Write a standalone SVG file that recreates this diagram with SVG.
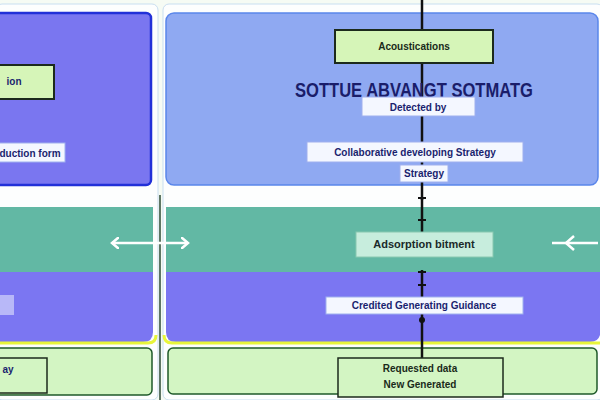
<svg xmlns="http://www.w3.org/2000/svg" width="600" height="400" viewBox="0 0 600 400">
<defs>
<style>
.lbl{font-family:"Liberation Sans",Arial,sans-serif;font-size:11px;font-weight:bold;fill:#1a1f6e;text-anchor:middle}
.wbox{fill:#f4f7ff;stroke:#9fb0ee;stroke-width:1}
.gbox{fill:#d6f5b8;stroke:#1c2a1c;stroke-width:2}
.conn{stroke:#111;stroke-width:2.5;fill:none}
</style>
<marker id="wh" markerWidth="10" markerHeight="12" refX="7" refY="6" orient="auto-start-reverse" markerUnits="userSpaceOnUse"><path d="M0,0 L7,6 L0,12" fill="none" stroke="#fff" stroke-width="2.5"/></marker>
</defs>
<rect width="600" height="400" fill="#f6fbf4"/>
<g id="frames">
<rect x="-4" y="4" width="162" height="396" rx="6" fill="#fdfefe" stroke="#c9def0" stroke-width="1"/>
<rect x="163" y="4" width="440" height="396" rx="6" fill="#fdfefe" stroke="#c9def0" stroke-width="1"/>
</g>
<g id="left-top">
<rect x="-6" y="13" width="157" height="172" rx="5" fill="#7a76f0" stroke="#2230d8" stroke-width="2.5"/>
</g>
<g id="right-top">
<rect x="166" y="13" width="432" height="172" rx="8" fill="#8fa9f2" stroke="#5a86ea" stroke-width="1.5"/>
</g>
<g id="bands">
<rect x="-4" y="207" width="157" height="66" fill="#62b8a4"/>
<rect x="166" y="207" width="436" height="66" fill="#62b8a4"/>
<path d="M-4 272 H153 V332 Q153 342 143 342 H-4 Z" fill="#7b76f2"/>
<path d="M166 272 H600 V335 Q598 342 590 342 H176 Q166 342 166 332 Z" fill="#7b76f2"/>
<path d="M-4 343 H148 Q156 343 156 335 M164 335 Q164 343 172 343 H600" fill="none" stroke="#e8f53a" stroke-width="3"/>
<rect x="-6" y="348" width="158" height="47" rx="5" fill="#d3f5c3" stroke="#1f5a2a" stroke-width="1.5"/>
<rect x="168" y="348" width="429" height="46" rx="5" fill="#d3f5c3" stroke="#1f5a2a" stroke-width="1.5"/>
</g>
<g id="divider">
<line x1="160" y1="195" x2="160" y2="400" stroke="#2b4a35" stroke-width="1.5"/>
</g>
<g id="connectors">
<line class="conn" x1="422" y1="0" x2="422" y2="200"/>
<line class="conn" x1="422" y1="197" x2="422" y2="232"/>
<line x1="418" y1="220" x2="426" y2="220" stroke="#111" stroke-width="2"/>
<line x1="418" y1="198" x2="426" y2="198" stroke="#111" stroke-width="2"/>
<line class="conn" x1="422" y1="270" x2="422" y2="358"/>
<line x1="418" y1="272" x2="426" y2="272" stroke="#111" stroke-width="2"/>
<line x1="418" y1="285" x2="426" y2="285" stroke="#111" stroke-width="2"/>
<circle cx="422" cy="320" r="3" fill="#111"/>
<line x1="112" y1="243" x2="188" y2="243" stroke="#fff" stroke-width="2.5" marker-start="url(#wh)" marker-end="url(#wh)"/>
<line x1="598" y1="243" x2="552" y2="243" stroke="#fff" stroke-width="2.5"/>
<path d="M574 236 L566 243 L574 250" fill="none" stroke="#fff" stroke-width="2.5"/>
</g>
<g id="n-left-green">
<rect x="-4" y="65" width="58" height="34" class="gbox"/>
<text class="lbl" x="14" y="85" style="font-size:10px">ion</text>
</g>
<g id="n-left-white">
<rect x="-4" y="143" width="69" height="19" class="wbox"/>
<text class="lbl" x="30" y="157" style="font-size:10px">duction form</text>
</g>
<g id="n-left-square">
<rect x="-4" y="295" width="18" height="20" fill="#b8b8f8"/>
</g>
<g id="n-left-bottom">
<rect x="-4" y="358" width="51" height="35" fill="#d3f5c3" stroke="#1c2a1c" stroke-width="1.5"/>
<text class="lbl" x="8" y="373" style="font-size:10px">ay</text>
</g>
<g id="n-top">
<rect x="335" y="30" width="158" height="33" class="gbox"/>
<text class="lbl" x="414" y="50" style="font-size:10px;fill:#1a2a1a">Acoustications</text>
</g>
<g id="n-title">
<text x="414" y="97" textLength="238" lengthAdjust="spacingAndGlyphs" style="font-family:'Liberation Sans',Arial,sans-serif;font-size:20px;font-weight:bold;fill:#1a1d6a;text-anchor:middle">SOTTUE ABVANGT SOTMATG</text>
</g>
<g id="n-detected">
<rect x="362" y="97" width="113" height="19" class="wbox"/>
<text class="lbl" x="418" y="111" style="font-size:10px">Detected by</text>
</g>
<g id="n-collab">
<rect x="307" y="142" width="216" height="20" class="wbox"/>
<text class="lbl" x="415" y="156" style="font-size:10px">Collaborative developing Strategy</text>
</g>
<g id="n-strategy">
<rect x="400" y="165" width="48" height="17" class="wbox"/>
<text class="lbl" x="424" y="177" style="font-size:10px">Strategy</text>
</g>
<g id="n-adsorption">
<rect x="356" y="232" width="137" height="25" fill="#c7eddd" stroke="#88c8b0" stroke-width="1"/>
<text class="lbl" x="424" y="248" style="font-size:11px;fill:#1a2a2a">Adsorption bitment</text>
</g>
<g id="n-credited">
<rect x="326" y="297" width="197" height="17" class="wbox"/>
<text class="lbl" x="424" y="309" style="font-size:10px">Credited Generating Guidance</text>
</g>
<g id="n-bottom">
<rect x="338" y="358" width="165" height="39" fill="#d3f5c3" stroke="#1c2a1c" stroke-width="1.5"/>
<text class="lbl" x="420" y="372" style="font-size:10px;fill:#1a2a1a">Requested data</text>
<text class="lbl" x="420" y="388" style="font-size:10px;fill:#1a2a1a">New Generated</text>
</g>
</svg>
